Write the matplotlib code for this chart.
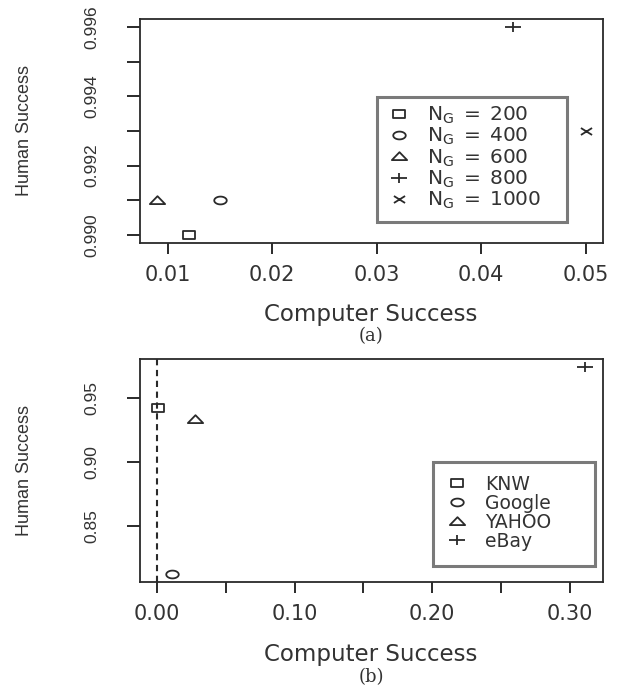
import matplotlib
matplotlib.use("Agg")
import matplotlib.pyplot as plt
from matplotlib.path import Path
from matplotlib.patches import Rectangle
import numpy as np

# ---- data ----
comp_a = [0.012, 0.015, 0.009, 0.043, 0.050]
human_a = [0.990, 0.991, 0.991, 0.996, 0.993]
ng_labels = ["200", "400", "600", "800", "1000"]

sites_b = ["KNW", "Google", "YAHOO", "eBay"]
comp_b = [0.001, 0.011, 0.028, 0.311]
human_b = [0.942, 0.812, 0.9334, 0.974]

xticks_a = [0.01, 0.02, 0.03, 0.04, 0.05]
yticks_a = [0.990, 0.991, 0.992, 0.993, 0.994, 0.995, 0.996]
xticks_b = [0.00, 0.05, 0.10, 0.15, 0.20, 0.25, 0.30]
yticks_b = [0.85, 0.90, 0.95]

# ---- stretched open markers (reference image is horizontally stretched) ----
S = 1.6
def poly(pts):
    pts = list(pts) + [pts[0]]
    codes = [Path.MOVETO] + [Path.LINETO] * (len(pts) - 2) + [Path.CLOSEPOLY]
    return Path(pts, codes)

sq = poly([(-S, -1), (S, -1), (S, 1), (-S, 1)])
t = np.linspace(0, 2 * np.pi, 40, endpoint=False)
circ = poly([(S * np.cos(a), np.sin(a)) for a in t])
tri = poly([(-S, -0.75), (S, -0.75), (0, 0.9)])
plus = Path([(-S, 0), (S, 0), (0, -1), (0, 1)],
            [Path.MOVETO, Path.LINETO, Path.MOVETO, Path.LINETO])
xm = Path([(-S, -1), (S, 1), (-S, 1), (S, -1)],
          [Path.MOVETO, Path.LINETO, Path.MOVETO, Path.LINETO])

markers = [sq, circ, tri, plus, xm]
msizes = [8.5, 9.0, 11, 11, 8]

INK = "#2a2a2a"
TXT = "#333333"
W, H = 623, 689
fig = plt.figure(figsize=(W / 100, H / 100), dpi=100)

NARROW = ["Liberation Sans", "DejaVu Sans"]
WIDE = ["DejaVu Sans"]

def style_axes(ax):
    for sp in ax.spines.values():
        sp.set_linewidth(1.3)
        sp.set_color(INK)
    ax.tick_params(axis="x", length=8, width=1.4, color=INK, pad=8,
                   labelsize=15, labelcolor=TXT)
    ax.tick_params(axis="y", length=9.5, width=1.4, color=INK, pad=20,
                   labelsize=12.5, labelcolor=TXT)
    for lab in ax.get_yticklabels():
        lab.set_rotation(90)
        lab.set_va("center")
        lab.set_family(NARROW)
    for lab in ax.get_xticklabels():
        lab.set_family(WIDE)

def px_box(x0, y0, x1, y1):
    r = Rectangle((x0 / W, 1 - y1 / H), (x1 - x0) / W, (y1 - y0) / H,
                  transform=fig.transFigure, facecolor="none",
                  edgecolor="#7a7a7a", linewidth=2.2, zorder=5)
    fig.patches.append(r)

def legend_at(ax, anchor_px_x, center_px_y, fs, hl, htp, ls):
    inv = ax.transAxes.inverted()
    ax_xy = inv.transform((anchor_px_x, H - center_px_y))
    leg = ax.legend(loc="center left", bbox_to_anchor=(ax_xy[0], ax_xy[1]),
                    borderaxespad=0, borderpad=0, frameon=False,
                    handlelength=hl, handletextpad=htp, labelspacing=ls,
                    prop={"family": WIDE, "size": fs})
    for txt in leg.get_texts():
        txt.set_color(TXT)
    return leg

# ---- panel (a) ----
ax1 = fig.add_axes([140 / W, 1 - 243 / H, 463 / W, 224 / H])
for i in range(len(comp_a)):
    ax1.plot([comp_a[i]], [human_a[i]], linestyle="none", marker=markers[i],
             markersize=msizes[i], markerfacecolor="none",
             markeredgecolor=INK, markeredgewidth=1.3,
             label=r"$\mathregular{N_G\;=\;" + ng_labels[i] + "}$")
ax1.set_xlim(0.00736, 0.05164)
ax1.set_ylim(0.98976, 0.99624)
ax1.set_xticks(xticks_a)
ax1.set_xticklabels(["%.2f" % v for v in xticks_a])
ax1.set_yticks(yticks_a)
ax1.set_yticklabels(["%.3f" % v if round(v * 1000) % 2 == 0 else "" for v in yticks_a])
style_axes(ax1)

# ---- panel (b) ----
ax2 = fig.add_axes([140 / W, 1 - 582 / H, 463 / W, 223 / H])
ax2.axvline(0, color=INK, linestyle=(0, (3, 2.2)), linewidth=1.5)
for i in range(len(comp_b)):
    ax2.plot([comp_b[i]], [human_b[i]], linestyle="none", marker=markers[i],
             markersize=msizes[i], markerfacecolor="none",
             markeredgecolor=INK, markeredgewidth=1.3, label=sites_b[i])
ax2.set_xlim(-0.0123, 0.324)
ax2.set_ylim(0.806, 0.9802)
ax2.set_xticks(xticks_b)
ax2.set_xticklabels(["%.2f" % v if round(v * 100) % 10 == 0 else "" for v in xticks_b])
ax2.set_yticks(yticks_b)
ax2.set_yticklabels(["%.2f" % v for v in yticks_b])
style_axes(ax2)

fig.canvas.draw()
legend_at(ax1, 386.9, 158, 14.5, 1.2, 0.795, 0.0)
legend_at(ax2, 445.75, 513, 13.5, 1.2, 0.89, 0.0)
px_box(377, 97, 567, 222)
px_box(433, 462, 595, 566)

# ---- axis titles ----
fig.text(25 / W, 1 - 131 / H, "Human Success", rotation=90, ha="center", va="center",
         family=NARROW, fontsize=13, color=TXT)
fig.text(25 / W, 1 - 471 / H, "Human Success", rotation=90, ha="center", va="center",
         family=NARROW, fontsize=13, color=TXT)
fig.text(371 / W, 1 - 314 / H, "Computer Success", ha="center", va="center",
         family=WIDE, fontsize=16.5, color=TXT)
fig.text(371 / W, 1 - 336 / H, "(a)", ha="center", va="center",
         family=["DejaVu Serif"], fontsize=13, color=TXT)
fig.text(371 / W, 1 - 654 / H, "Computer Success", ha="center", va="center",
         family=WIDE, fontsize=16.5, color=TXT)
fig.text(371 / W, 1 - 677 / H, "(b)", ha="center", va="center",
         family=["DejaVu Serif"], fontsize=13, color=TXT)

fig.savefig("out.png", dpi=100)
